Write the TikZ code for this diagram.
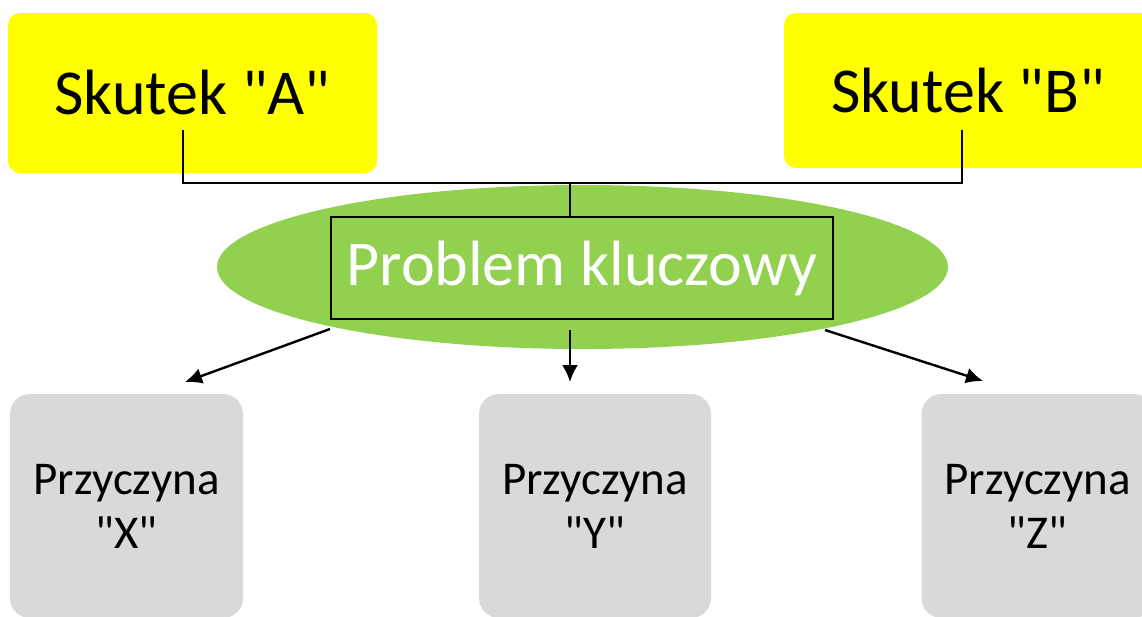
\documentclass[tikz,border=0pt]{standalone}
\usepackage{fontspec}
\setmainfont{Carlito}[Ligatures=TeXOff]
\usetikzlibrary{arrows.meta,shapes.geometric}
\definecolor{yel}{HTML}{FFFF00}
\definecolor{grn}{HTML}{92D050}
\definecolor{gry}{HTML}{D9D9D9}
\tikzset{
  effect/.style={fill=yel, rounded corners=12pt, inner sep=0pt, font=\fontsize{64}{68}\selectfont},
  cause/.style={fill=gry, rounded corners=20pt, inner sep=0pt, align=center, font=\fontsize{47}{54}\selectfont},
  conn/.style={draw=black, line width=2.4pt},
  arr/.style={conn, -{Latex[length=17pt,width=16pt]}},
}
\begin{document}
\begin{tikzpicture}[x=1pt,y=-1pt]
\useasboundingbox (0,0) rectangle (1142,616);
\node[effect, minimum width=369pt, minimum height=160pt] (A) at (192.5,93) {Skutek "A"};
\node[effect, minimum width=368pt, minimum height=155pt] (B) at (968,90.5) {Skutek "B"};
\node[ellipse, fill=grn, minimum width=731pt, minimum height=164pt, inner sep=0pt] (E) at (582.5,267) {};
\node[draw=black, line width=2pt, minimum width=502pt, minimum height=102pt, inner sep=0pt, text=white, font=\fontsize{64}{68}\selectfont] (P) at (582,268) {Problem kluczowy};
\node[cause, minimum width=233pt, minimum height=224pt] (X) at (126.5,506) {Przyczyna\\"X"};
\node[cause, minimum width=232pt, minimum height=224pt] (Y) at (595,506) {Przyczyna\\"Y"};
\node[cause, minimum width=232pt, minimum height=224pt] (Z) at (1037.5,506) {Przyczyna\\"Z"};
\coordinate (aA) at (183,130);
\coordinate (aB) at (962,130);
\coordinate (j) at (570,183);
\draw[draw=black, line width=2pt] (aA) |- (j) -| (aB);
\draw[draw=black, line width=2pt] (j) -- (j |- P.north);
\coordinate (sL) at (330,329);
\coordinate (sM) at (570,330);
\coordinate (sR) at (825,330);
\coordinate (tL) at (185,382);
\coordinate (tM) at (570,382);
\coordinate (tR) at (983,381);
\draw[arr] (sL) -- (tL);
\draw[arr] (sM) -- (tM);
\draw[arr] (sR) -- (tR);
\end{tikzpicture}
\end{document}
